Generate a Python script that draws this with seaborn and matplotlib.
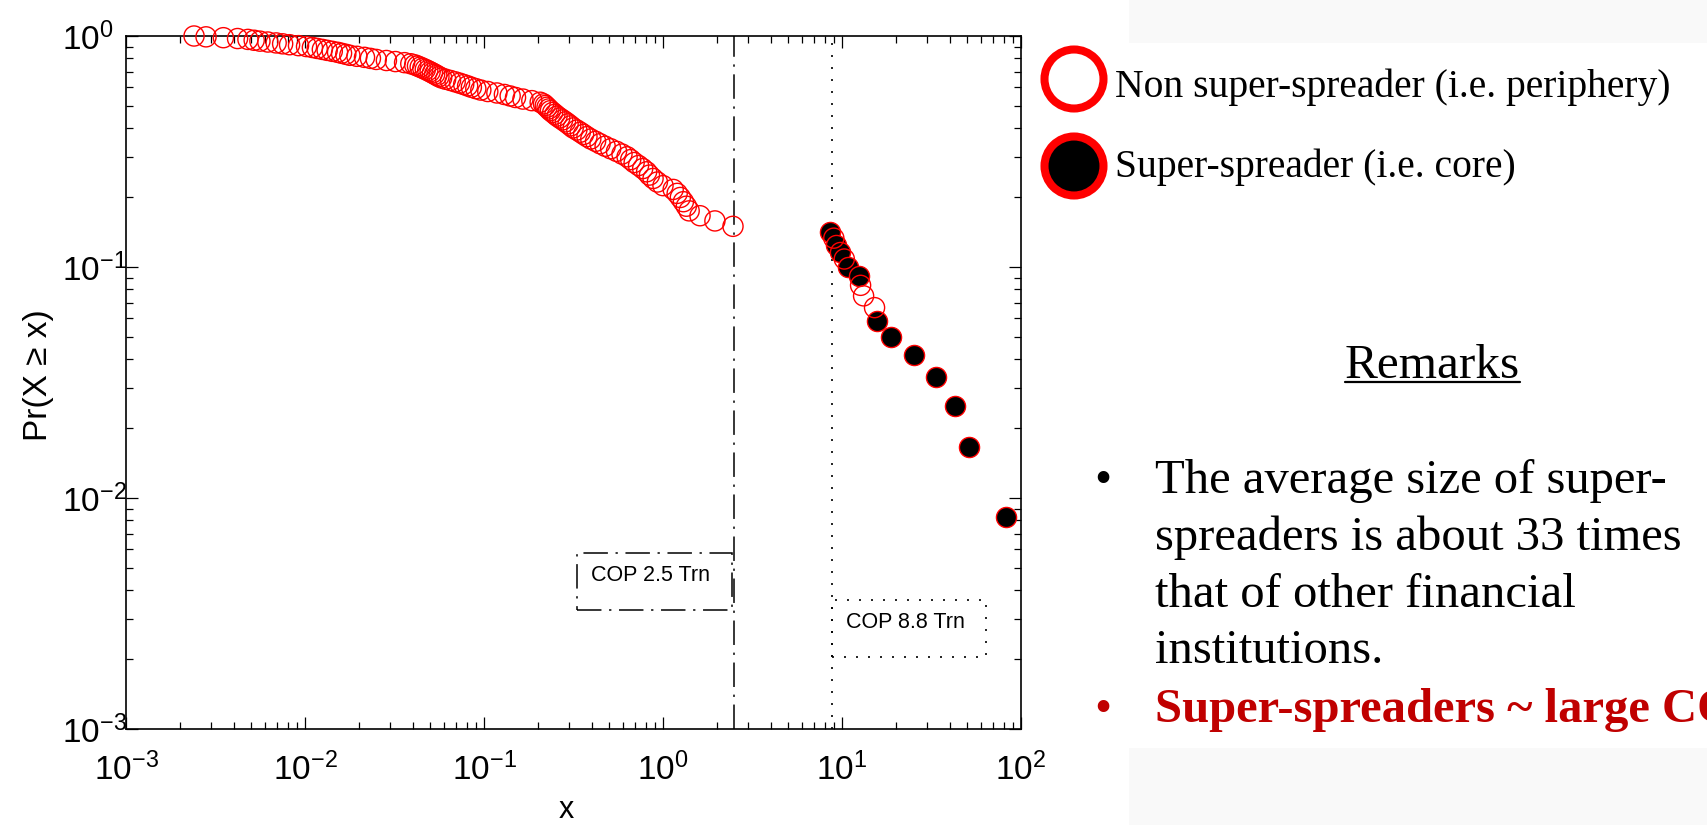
import matplotlib
matplotlib.use("Agg")
import matplotlib.pyplot as plt
import matplotlib.patches as mpatches
from matplotlib.lines import Line2D
from matplotlib.ticker import LogLocator, NullFormatter
import seaborn as sns

# ---------------- data ----------------
# Non super-spreaders (periphery): size x and Pr(X >= x)
periphery_x = [
    0.0024, 0.0028, 0.0035, 0.0042, 0.0048, 0.0052, 0.0056, 0.0062, 0.0069, 0.0075,
    0.0082, 0.0092, 0.0102, 0.0110, 0.0117, 0.0125, 0.0133, 0.0142, 0.0152, 0.0160,
    0.0169, 0.0178, 0.0195, 0.0215, 0.0232, 0.0250, 0.0285, 0.0320, 0.0360, 0.0390,
    0.0410, 0.0425, 0.0440, 0.0455, 0.0470, 0.0485, 0.0500, 0.0515, 0.0530, 0.0545,
    0.0560, 0.0580, 0.0610, 0.0650, 0.0690, 0.0730, 0.0770, 0.0810, 0.0850, 0.0900,
    0.0960, 0.1050, 0.1180, 0.1300, 0.1400, 0.1500, 0.1650, 0.1850, 0.2060, 0.2150,
    0.2200, 0.2250, 0.2300, 0.2350, 0.2420, 0.2490, 0.2560, 0.2650, 0.2750, 0.2850,
    0.2950, 0.3050, 0.3150, 0.3300, 0.3450, 0.3600, 0.3760, 0.3950, 0.4200, 0.4450,
    0.4750, 0.5100, 0.5500, 0.5900, 0.6300, 0.6600, 0.6900, 0.7300, 0.7700, 0.8100,
    0.8400, 0.8800, 0.9300, 1.0000, 1.1400, 1.2000, 1.2500, 1.3000, 1.3500, 1.4000,
    1.6100, 1.9500, 2.4600,
    9.0, 10.3, 12.7, 13.2, 15.2,
]
periphery_y = [
    1.0, 0.9917, 0.9833, 0.975, 0.9667, 0.9583, 0.95, 0.9417, 0.9333, 0.925,
    0.9167, 0.9083, 0.9, 0.8917, 0.8833, 0.875, 0.8667, 0.8583, 0.85, 0.8417,
    0.8333, 0.825, 0.8167, 0.8083, 0.8, 0.7917, 0.7833, 0.775, 0.7667, 0.7583,
    0.75, 0.7417, 0.7333, 0.725, 0.7167, 0.7083, 0.7, 0.6917, 0.6833, 0.675,
    0.6667, 0.6583, 0.65, 0.6417, 0.6333, 0.625, 0.6167, 0.6083, 0.6, 0.5917,
    0.5833, 0.575, 0.5667, 0.5583, 0.55, 0.5417, 0.5333, 0.525, 0.5167, 0.5083,
    0.5, 0.4917, 0.4833, 0.475, 0.4667, 0.4583, 0.45, 0.4417, 0.4333, 0.425,
    0.4167, 0.4083, 0.4, 0.3917, 0.3833, 0.375, 0.3667, 0.3583, 0.35, 0.3417,
    0.3333, 0.325, 0.3167, 0.3083, 0.3, 0.2917, 0.2833, 0.275, 0.2667, 0.2583,
    0.25, 0.2417, 0.2333, 0.225, 0.2167, 0.2083, 0.2, 0.1917, 0.1833, 0.175,
    0.1667, 0.1583, 0.15,
    0.1333, 0.1083, 0.0833, 0.075, 0.0667,
]
# Super-spreaders (core)
core_x = [8.6, 9.2, 9.8, 10.8, 12.4, 15.6, 18.8, 25.2, 33.5, 42.8, 51.2, 82.4]
core_y = [0.1417, 0.125, 0.1167, 0.1, 0.0917, 0.0583, 0.05, 0.0417, 0.0333, 0.025, 0.0167, 0.0083]

threshold_values = [2.5, 8.8]
threshold_labels = ["COP 2.5 Trn", "COP 8.8 Trn"]
legend_labels = ["Non super-spreader (i.e. periphery)", "Super-spreader (i.e. core)"]
remarks_title = "Remarks"
remarks_lines = ["The average size of super-", "spreaders is about 33 times",
                 "that of other financial", "institutions."]
remarks_highlight = "Super-spreaders ~ large COP"

# ---------------- style ----------------
sns.set_style("ticks")
plt.rcParams['font.family'] = ['Liberation Sans', 'DejaVu Sans']
plt.rcParams['mathtext.fontset'] = 'custom'
plt.rcParams['mathtext.rm'] = 'Liberation Sans'
plt.rcParams['mathtext.it'] = 'Liberation Sans:italic'
plt.rcParams['mathtext.bf'] = 'Liberation Sans:bold'
plt.rcParams['axes.unicode_minus'] = False

W, H = 1707, 825
fig = plt.figure(figsize=(W / 100, H / 100), dpi=100)
fig.patch.set_facecolor('white')


def fx(px):
    return px / W


def fy(py):
    return 1 - py / H


# faint slide-background bands on the right
for (x0, y0, x1, y1) in [(1129, 0, 1707, 43), (1129, 748, 1707, 825)]:
    fig.add_artist(mpatches.Rectangle((fx(x0), fy(y1)), fx(x1) - fx(x0), fy(y0) - fy(y1),
                                      transform=fig.transFigure, facecolor='#f9f9f9',
                                      edgecolor='none', zorder=0))

ax = fig.add_axes([fx(126), fy(729), fx(1021) - fx(126), fy(36) - fy(729)])
ax.set_facecolor('white')
ax.set_xscale('log')
ax.set_yscale('log')

sns.scatterplot(x=core_x, y=core_y, ax=ax, s=210, marker='o', color='black',
                edgecolor='#ff0000', linewidth=1.0, zorder=3, clip_on=False, legend=False)
sns.scatterplot(x=periphery_x, y=periphery_y, ax=ax, s=210, marker='o',
                edgecolor='#ff0000', linewidth=1.0, zorder=4, clip_on=False, legend=False)
ax.collections[-1].set_facecolor('none')
ax.collections[-1].set_edgecolor('#ff0000')

ax.set_xlim(1e-3, 1e2)
ax.set_ylim(1e-3, 1)

# threshold lines
ax.axvline(threshold_values[0], color='black', lw=1.1, dashes=(16, 5, 1.5, 5), zorder=2)
ax.axvline(threshold_values[1], color='black', lw=1.2, dashes=(1.2, 6), zorder=2)

# annotation boxes
ax.add_patch(mpatches.Rectangle((0.5039, 0.1717), 0.1732, 0.0823, transform=ax.transAxes,
                                fill=False, edgecolor='black', lw=1.1,
                                linestyle=(0, (16, 5, 1.5, 5)), clip_on=False))
ax.text(0.5855, 0.2222, threshold_labels[0], transform=ax.transAxes, ha='center',
        va='center', fontsize=15.5, color='black')
ax.add_patch(mpatches.Rectangle((0.7888, 0.1039), 0.1721, 0.0822, transform=ax.transAxes,
                                fill=False, edgecolor='black', lw=1.2,
                                linestyle=(0, (1.2, 6)), clip_on=False))
ax.text(0.8704, 0.1544, threshold_labels[1], transform=ax.transAxes, ha='center',
        va='center', fontsize=15.5, color='black')

# axes styling (MATLAB look)
for sp in ax.spines.values():
    sp.set_visible(True)
    sp.set_linewidth(1.2)
    sp.set_color('black')
for axis in (ax.xaxis, ax.yaxis):
    axis.set_major_locator(LogLocator(base=10, numticks=10))
    axis.set_minor_locator(LogLocator(base=10, subs=range(2, 10), numticks=20))
    axis.set_minor_formatter(NullFormatter())
ax.tick_params(which='both', direction='in', top=True, right=True, color='black',
               labelcolor='black', width=0.9)
ax.tick_params(which='major', length=8.5, labelsize=24)
ax.tick_params(which='minor', length=5)
ax.tick_params(axis='x', which='major', pad=17)
ax.tick_params(axis='y', which='major', pad=46)
for lbl in ax.get_yticklabels():
    lbl.set_horizontalalignment('left')

ax.set_xlabel('x', fontsize=22, color='black')
ax.xaxis.label.set_verticalalignment('baseline')
ax.xaxis.set_label_coords(0.4916, -0.128)
ax.set_ylabel('Pr(X \u2265 x)', fontsize=24, color='black')
ax.yaxis.set_label_coords(-0.081, 0.511)

# ---------------- legend (right side) ----------------
for cy, face in [(79, 'white'), (166, 'black')]:
    fig.add_artist(mpatches.Ellipse((fx(1074), fy(cy)), 59 / W, 59 / H,
                                    transform=fig.transFigure, facecolor=face,
                                    edgecolor='#ff0000', lw=5.8, zorder=5))
serif = ['Liberation Serif', 'DejaVu Serif']
fig.text(fx(1115), fy(97), legend_labels[0], fontsize=28.5, family=serif, va='baseline',
         color='black')
fig.text(fx(1115), fy(177), legend_labels[1], fontsize=28.5, family=serif, va='baseline',
         color='black')

# ---------------- remarks ----------------
t_rem = fig.text(fx(1345), fy(378), remarks_title, fontsize=35.5, family=serif,
                 va='baseline', color='black')
fig.canvas.draw()
bb = t_rem.get_window_extent(fig.canvas.get_renderer())
fig.add_artist(Line2D([bb.x0 / W, bb.x1 / W], [fy(382), fy(382)],
                      transform=fig.transFigure, color='black', lw=1.6))

baselines = [493, 550, 607, 663]
fig.text(fx(1103), fy(baselines[0]), '\u2022', fontsize=35, family=serif, ha='center',
         va='baseline', color='black')
for line, b in zip(remarks_lines, baselines):
    fig.text(fx(1155), fy(b), line, fontsize=35, family=serif, va='baseline', color='black')
fig.text(fx(1103), fy(722), '\u2022', fontsize=35, family=serif, ha='center',
         va='baseline', color='#c00000')
fig.text(fx(1155), fy(722), remarks_highlight, fontsize=35, family=serif,
         fontweight='bold', va='baseline', color='#c00000')

fig.savefig('out.png', dpi=100)
